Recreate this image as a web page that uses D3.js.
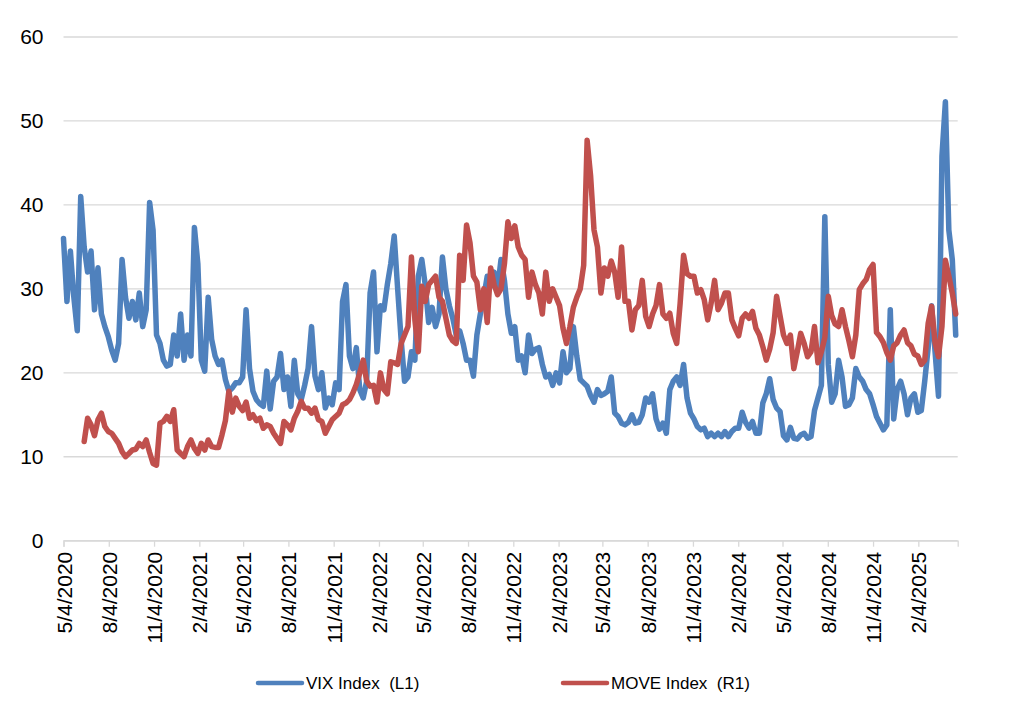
<!DOCTYPE html>
<html>
<head>
<meta charset="utf-8">
<script src="https://cdn.jsdelivr.net/npm/d3@7"></script>
<style>
  html, body { margin: 0; padding: 0; background: #fff; }
  svg { display: block; font-family: "Liberation Sans", Arial, sans-serif; }
</style>
</head>
<body>
<svg width="1024" height="716"></svg>
<script>
// weekly readings, first VIX week = 5/4/2020, MOVE starts 6 weeks later
const vixStart = new Date(2020, 4, 4);
const moveStart = new Date(2020, 5, 15);
const axisEnd = new Date(2025, 3, 25);

const vixValues = [
  36, 28.5, 34.5, 29, 25, 41, 35, 32, 34.5, 27.5,
  32.5, 27, 25.5, 24.3, 22.7, 21.5, 23.5, 33.5, 29, 26.5,
  28.5, 26.3, 29.5, 25.5, 27.5, 40.3, 37, 24.5, 23.5, 21.5,
  20.8, 21, 24.5, 22, 27, 21.5, 24.5, 22, 37.3, 33,
  21.5, 20.2, 29, 24, 22, 21, 21.5, 19.2, 17.8, 18.2,
  18.8, 18.8, 19.5, 27.5, 20.5, 17.8, 16.8, 16.3, 16, 20.2,
  15.7, 19, 19.5, 22.3, 18, 19.5, 16, 21.5, 17.5, 16.8,
  18.5, 20.5, 25.5, 19.6, 18, 20, 15.8, 17, 16.2, 18.8,
  18, 28.5, 30.5, 22, 20.5, 23, 18, 17, 19, 29.5,
  32, 22.5, 28, 27.5, 30.5, 33, 36.3, 30, 24, 19,
  19.5, 22.5, 21.5, 31.5, 33.5, 30.5, 26, 27.8, 25.5, 27,
  33.8, 30, 28, 26.5, 24.5, 25, 23.5, 21.5, 21.5, 19.6,
  24.5, 27, 29, 31.5, 30.3, 32, 30, 33.5, 31, 27,
  24.7, 25.5, 21.5, 22, 20, 24.5, 22.3, 22.8, 23, 21,
  19.5, 19.8, 18.5, 20, 18.8, 22.5, 20, 20.5, 25.5, 22,
  19.2, 18.8, 18.4, 17.3, 16.5, 18, 17.3, 17.5, 17.8, 19.5,
  15.2, 14.8, 14, 13.8, 14.1, 15, 14, 14.1, 15, 17,
  16.5, 17.5, 14.5, 13.3, 14, 12.8, 18, 19, 19.5, 18.5,
  21, 17, 15.2, 14.5, 13.6, 13.2, 13.4, 12.4, 12.8, 12.4,
  12.8, 12.4, 13, 12.4, 13, 13.4, 13.4, 15.3, 14.1, 13.4,
  14.2, 12.8, 12.8, 16.4, 17.5, 19.3, 16.8, 15.8, 15.4, 12.5,
  12, 13.5, 12.2, 12.1, 12.6, 12.8, 12.2, 12.4, 15.5, 17,
  18.5, 38.6, 21, 16.5, 17.5, 21.5, 19.5, 16, 16.2, 17,
  20.5, 19.5, 19, 18, 17.5, 16.2, 14.8, 14, 13.2, 13.8,
  27.5, 14.5, 18, 19, 17.5, 15, 17, 17.5, 15.3, 15.5,
  19, 23, 28, 22.5, 17.2, 45.8, 52.3, 37, 33.5, 24.5
];

const moveValues = [
  49.2, 60.8, 57.5, 52.1, 60, 63.3, 56.7, 54.2, 53.3, 50.8,
  48.3, 44.2, 41.7, 43.3, 45, 45.4, 48.3, 46.7, 50, 43.8,
  38.3, 37.5, 58.3, 59.2, 61.7, 59.2, 65, 45, 43.3, 41.7,
  46.7, 50, 45.8, 43.3, 48.3, 45, 50, 46.7,
  46.3, 46.3, 52.5, 59.6, 74.2, 63.8, 70.8, 66.7, 64.6, 68.8,
  60.8, 62.5, 59.6, 60.8, 55.8, 57.5, 56.7, 53.3, 50.8, 48.3,
  59.2, 57.5, 55, 60.8, 64.2, 69.2, 65.8, 65.8, 63.3, 65.8,
  60, 59.2, 53.3, 56.7, 60, 61.7, 63.3, 67.5, 68.3, 70,
  73.3, 77.5, 83.3, 89.6,
  79.2, 76.7, 77.1, 68.8, 83.3, 75, 72.9, 88.8, 88.3, 87.5,
  97.9, 102.1, 106.3, 140.8, 109.6, 93.8, 126.3, 118.8, 127.1, 129.2,
  131.3, 120.8, 118.8, 110.4, 102.1, 99.2, 97.9, 141.7, 129.2, 156.7,
  147.9, 131.3, 128.3, 114.6, 125, 108.3, 135.4, 127.1, 122.1, 125,
  137.5, 158.3, 150, 156.3,
  145.8, 141.7, 139.6, 120.8, 133.3, 127.1, 122.9, 112.5, 133.3, 118.8,
  125, 120.8, 116.7, 105.4, 97.9, 106.3, 115.8, 120.8, 125, 136.7,
  198.8, 181.3, 154.2, 145.8, 122.9, 135.4, 131.3, 138.8, 133.3, 120.8,
  145.8, 118.8, 118.8, 104.6, 114.6, 116.7, 129.2, 111.3, 106.3, 112.5,
  116.7, 127.1, 112.5,
  110.4, 112.9, 102.9, 97.9, 117.9, 141.7, 132.5, 131.3, 131.3, 122.9,
  124.6, 119.6, 109.6, 117.9, 129.2, 114.6, 117.9, 122.9, 122.9, 109.6,
  105.4, 101.7, 110.4, 112.5, 110.4, 113.8, 105.4, 102.1, 96.3, 89.6,
  95, 103.3, 121.3, 111.7, 102.1, 97.9, 102.1, 85.4, 93.8, 102.9,
  97.9, 91.3, 93.8, 106.3, 88.3, 93.8, 100.8, 121.3, 111.7, 107.5,
  106.3, 114.6, 106.3, 99.2, 91.3, 102.1, 124.6, 127.5, 129.6, 134.6,
  137.1, 103.3, 101.3, 98.3, 93.3, 89.6, 96.7, 98.3, 102.1, 104.6,
  98.3, 96.7, 92.5, 91.7, 87.5, 89.6, 107.9, 116.3, 98.3, 91.3,
  106.3, 139.2, 131.3, 122.9, 112.5
];

const tickLabels = [
  "5/4/2020", "8/4/2020", "11/4/2020", "2/4/2021", "5/4/2021", "8/4/2021",
  "11/4/2021", "2/4/2022", "5/4/2022", "8/4/2022", "11/4/2022", "2/4/2023",
  "5/4/2023", "8/4/2023", "11/4/2023", "2/4/2024", "5/4/2024", "8/4/2024",
  "11/4/2024", "2/4/2025"
];
const yTicks = [0, 10, 20, 30, 40, 50, 60];

const seriesNames = ["VIX Index  (L1)", "MOVE Index  (R1)"];
const seriesColors = ["#4f81bd", "#c0504d"];

const vix = vixValues.map((v, i) => ({ date: d3.timeDay.offset(vixStart, 7 * i), value: v }));
const move = moveValues.map((v, i) => ({ date: d3.timeDay.offset(moveStart, 7 * i), value: v }));

const parseTick = d3.timeParse("%m/%d/%Y");

const margin = { left: 63.5, right: 957.7, top: 37, bottom: 540.7 };

const svg = d3.select("svg");

const x = d3.scaleTime()
  .domain([vixStart, axisEnd])
  .range([margin.left, margin.right]);

const yLeft = d3.scaleLinear().domain([0, 60]).range([margin.bottom, margin.top]);
// right axis is hidden in the original, 0-250
const yRight = d3.scaleLinear().domain([0, 250]).range([margin.bottom, margin.top]);

// gridlines
svg.append("g")
  .selectAll("line")
  .data(yTicks)
  .join("line")
  .attr("x1", margin.left)
  .attr("x2", margin.right)
  .attr("y1", d => yLeft(d))
  .attr("y2", d => yLeft(d))
  .attr("stroke", "#d9d9d9")
  .attr("stroke-width", 1.3);

// left axis labels
const yAxis = svg.append("g")
  .attr("transform", `translate(${margin.left},0)`)
  .call(d3.axisLeft(yLeft).tickValues(yTicks).tickSize(0).tickPadding(20));
yAxis.select(".domain").remove();
yAxis.selectAll("text")
  .attr("font-size", 21)
  .attr("font-family", "Liberation Sans, Arial, sans-serif")
  .attr("fill", "#000");

// x axis
const xAxis = svg.append("g")
  .attr("transform", `translate(0,${margin.bottom})`)
  .call(d3.axisBottom(x)
    .tickValues(tickLabels.map(parseTick))
    .tickFormat((d, i) => tickLabels[i])
    .tickSizeOuter(0)
    .tickSize(6));
xAxis.select(".domain").attr("stroke", "#d9d9d9").attr("stroke-width", 1.3);
xAxis.selectAll(".tick line").attr("stroke", "#d9d9d9").attr("stroke-width", 1.3);
xAxis.selectAll("text")
  .attr("font-size", 21)
  .attr("font-family", "Liberation Sans, Arial, sans-serif")
  .attr("fill", "#000")
  .attr("text-anchor", "end")
  .attr("transform", "rotate(-90)")
  .attr("x", -11)
  .attr("y", 0)
  .attr("dy", "0.36em");

// lines
const lineL = d3.line().x(d => x(d.date)).y(d => yLeft(d.value));
const lineR = d3.line().x(d => x(d.date)).y(d => yRight(d.value));

svg.append("path")
  .datum(vix)
  .attr("fill", "none")
  .attr("stroke", seriesColors[0])
  .attr("stroke-width", 5.5)
  .attr("stroke-linejoin", "round")
  .attr("stroke-linecap", "round")
  .attr("d", lineL);

svg.append("path")
  .datum(move)
  .attr("fill", "none")
  .attr("stroke", seriesColors[1])
  .attr("stroke-width", 5.5)
  .attr("stroke-linejoin", "round")
  .attr("stroke-linecap", "round")
  .attr("d", lineR);

// legend
const legendX = [258, 563];
const legend = svg.append("g")
  .selectAll("g")
  .data(seriesNames)
  .join("g")
  .attr("transform", (d, i) => `translate(${legendX[i]},683)`);

legend.append("line")
  .attr("x1", 0).attr("x2", 44)
  .attr("stroke", (d, i) => seriesColors[i])
  .attr("stroke-width", 4.5)
  .attr("stroke-linecap", "round");

legend.append("text")
  .attr("x", 48)
  .attr("dy", "0.36em")
  .attr("font-size", 17)
  .style("white-space", "pre")
  .text(d => d);
</script>
</body>
</html>
